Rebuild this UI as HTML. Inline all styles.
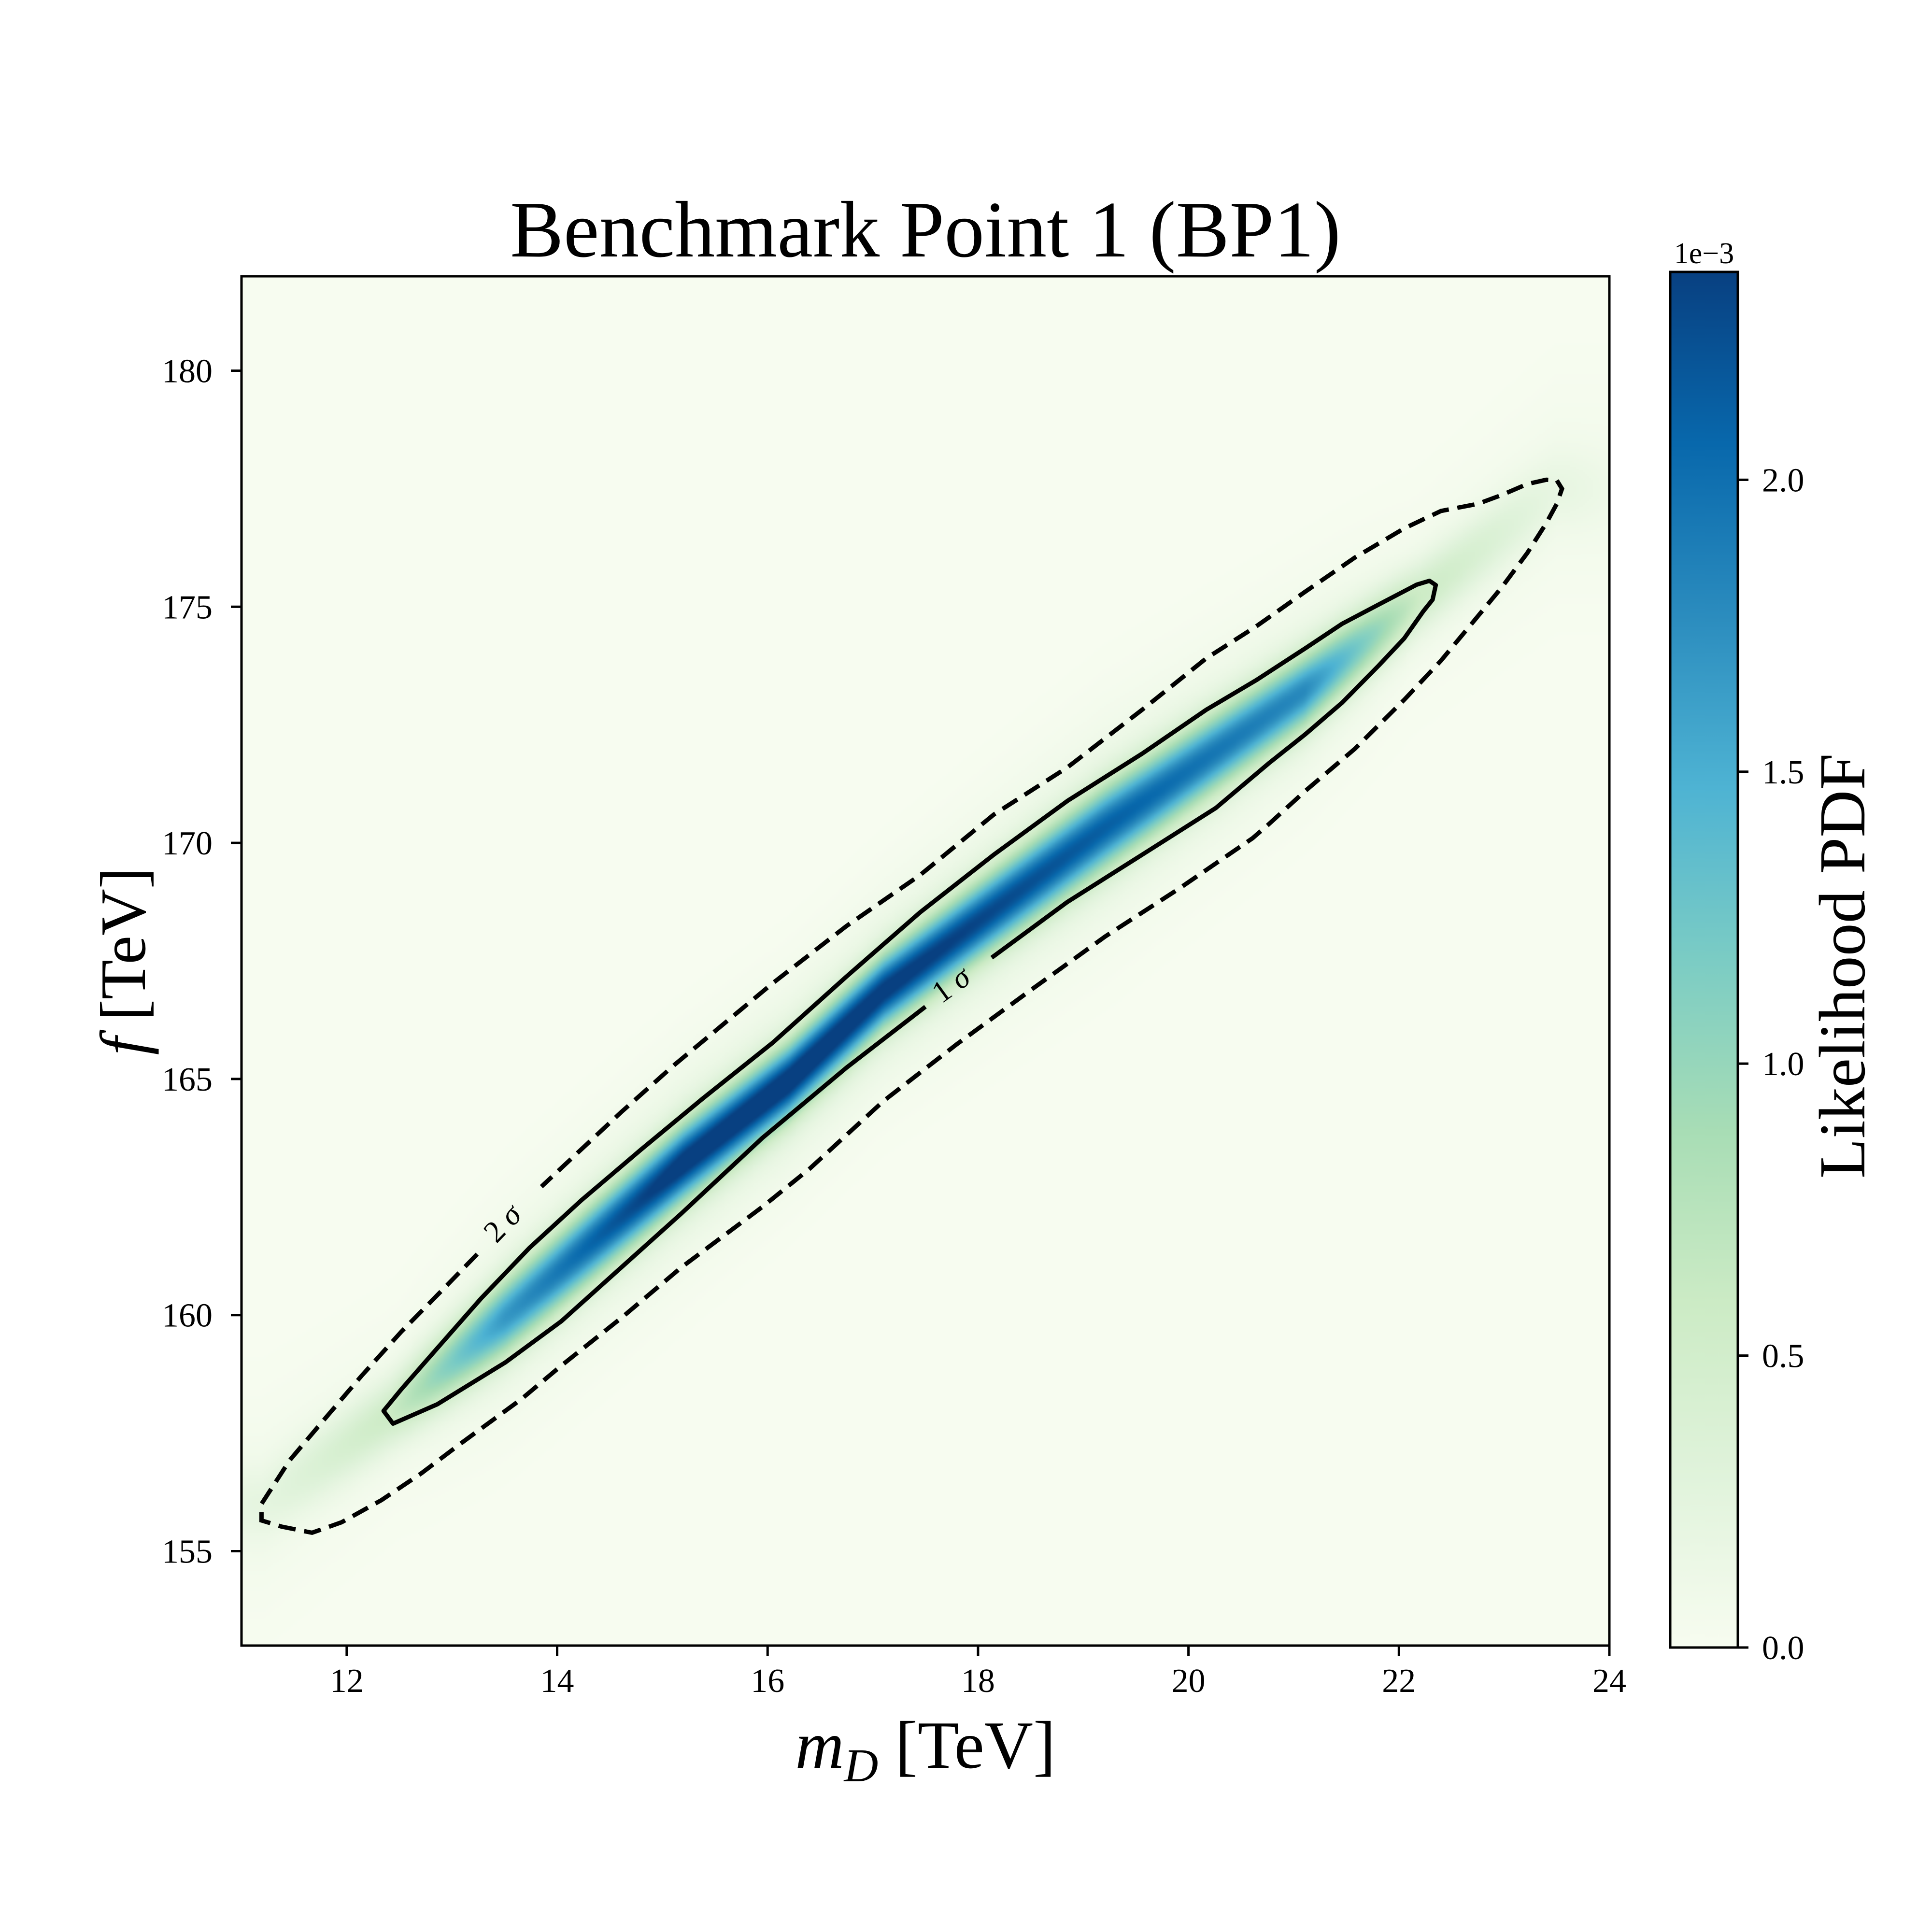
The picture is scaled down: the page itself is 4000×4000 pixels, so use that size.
<!DOCTYPE html>
<html><head><meta charset="utf-8">
<style>
html,body{margin:0;padding:0;background:#fff;}
#wrap{position:relative;width:4000px;height:4000px;overflow:hidden;background:#fff;}
#heat{position:absolute;left:500px;top:572px;width:2832px;height:2835px;}
#svg{position:absolute;left:0;top:0;}
text{font-family:"Liberation Serif",serif;fill:#000;}
</style></head>
<body>
<div id="wrap">
<canvas id="heat" width="708" height="709"></canvas>
<svg id="svg" width="4000" height="4000" viewBox="0 0 4000 4000">
<defs>
<linearGradient id="cbgrad" x1="0" y1="1" x2="0" y2="0">
<stop offset="0" stop-color="#f7fcf0"/>
<stop offset="0.125" stop-color="#e0f3db"/>
<stop offset="0.25" stop-color="#ccebc5"/>
<stop offset="0.375" stop-color="#a8ddb5"/>
<stop offset="0.5" stop-color="#7bccc4"/>
<stop offset="0.625" stop-color="#4eb3d3"/>
<stop offset="0.75" stop-color="#2b8cbe"/>
<stop offset="0.875" stop-color="#0868ac"/>
<stop offset="1" stop-color="#084081"/>
</linearGradient>
</defs>
<g id="contours"></g>
<rect x="500" y="572" width="2832" height="2835" fill="none" stroke="#000" stroke-width="5"/>
<g id="xticks"></g>
<g id="yticks"></g>
<text x="1916" y="531" font-size="166" text-anchor="middle">Benchmark Point 1 (BP1)</text>
<text x="1916" y="3660" font-size="140" text-anchor="middle"><tspan font-style="italic">m</tspan><tspan font-style="italic" font-size="98" dy="28">D</tspan><tspan dy="-28"> [TeV]</tspan></text>
<text transform="translate(300,1990) rotate(-90)" font-size="134" text-anchor="middle"><tspan font-style="italic">f</tspan> [TeV]</text>
<rect x="3458" y="563" width="140" height="2848" fill="url(#cbgrad)" stroke="#000" stroke-width="5"/>
<g id="cbticks"></g>
<text x="3528" y="545" font-size="62" text-anchor="middle">1e−3</text>
<text transform="translate(3860,2000) rotate(-90)" font-size="136" text-anchor="middle">Likelihood PDF</text>
</svg>
</div>
<script>
// ---- data ----
const xTicks = [12,14,16,18,20,22,24];
const yTicks = [155,160,165,170,175,180];
const cbTicks = [0.0,0.5,1.0,1.5,2.0];
const xDomain = [11,24];
const yDomain = [153,182];
const cbDomain = [0,2.356];
// likelihood ridge (TeV) and peak density (1e-3)
const ridgeX = [11.2,12.4,13.5,15.2,16.2,17.1,19.2,21.1,22.2,23.5];
const ridgeY = [156.0,157.9,159.94,163.22,164.95,166.85,170.31,173.21,175.2,177.5];
const ridgePeak = [0.15,0.5,1.5,2.25,2.32,2.2,1.9,1.6,0.5,0.12];
const ridgeSigma = [0.55,0.5,0.54,0.52,0.5,0.5,0.57,0.52,0.5,0.55];
// 1 sigma contour (solid), starts/ends at label gap
const sig1_x = [17.50,16.75,15.95,15.18,14.61,14.04,13.51,12.86,12.44,12.35,12.52,12.83,13.28,13.74,14.23,14.80,15.38,16.05,16.75,17.45,18.15,18.85,19.56,20.17,20.64,21.11,21.46,21.81,22.17,22.29,22.35,22.32,22.23,22.05,21.81,21.46,21.11,20.76,20.26,19.56,18.85,18.13];
const sig1_y = [166.53,165.24,163.75,162.15,161.01,159.87,159.00,158.11,157.70,157.97,158.43,159.22,160.36,161.43,162.43,163.51,164.58,165.77,167.17,168.53,169.75,170.89,171.89,172.82,173.44,174.12,174.64,175.05,175.47,175.55,175.46,175.15,174.90,174.33,173.76,172.97,172.30,171.68,170.74,169.75,168.75,167.57];
// 2 sigma contour (dashed), starts/ends at label gap
const sig2_x = [13.24,12.90,12.52,12.14,11.76,11.46,11.19,11.19,11.38,11.67,11.95,12.33,12.71,13.09,13.66,14.04,14.61,15.18,15.95,16.40,17.10,17.80,18.50,19.21,19.91,20.61,20.76,21.11,21.58,22.05,22.40,22.75,22.98,23.22,23.40,23.50,23.55,23.50,23.40,23.22,22.98,22.75,22.40,22.05,21.58,21.11,20.64,20.17,19.56,18.85,18.15,17.45,16.75,16.05,15.11,14.61,14.23,13.85];
const sig2_y = [161.29,160.51,159.65,158.71,157.72,156.93,156.00,155.65,155.52,155.39,155.61,156.08,156.65,157.29,158.22,158.93,159.94,161.01,162.29,163.10,164.53,165.74,166.88,168.02,169.03,170.10,170.39,171.10,171.99,173.03,173.86,174.80,175.42,176.14,176.77,177.18,177.50,177.68,177.69,177.60,177.37,177.18,177.03,176.66,176.04,175.32,174.58,173.91,172.82,171.60,170.60,169.32,168.24,167.03,165.29,164.30,163.51,162.72];

// ---- axes ----
const PL=500, PR=3332, PT=572, PB=3407;
function sx(v){return PL+(v-xDomain[0])/(xDomain[1]-xDomain[0])*(PR-PL);}
function sy(v){return PB-(v-yDomain[0])/(yDomain[1]-yDomain[0])*(PB-PT);}
const CBT=563, CBB=3411;
function sc(v){return CBB-(v-cbDomain[0])/(cbDomain[1]-cbDomain[0])*(CBB-CBT);}
const NS="http://www.w3.org/2000/svg";
function mk(tag,attrs,parent){const e=document.createElementNS(NS,tag);for(const k in attrs)e.setAttribute(k,attrs[k]);parent.appendChild(e);return e;}

// heatmap
const stops=[[247,252,240],[224,243,219],[204,235,197],[168,221,181],[123,204,196],[78,179,211],[43,140,190],[8,104,172],[8,64,129]];
function cmap(t){t=Math.max(0,Math.min(1,t))*8;const i=Math.min(7,Math.floor(t));const f=t-i;const a=stops[i],b=stops[i+1];return [a[0]+(b[0]-a[0])*f,a[1]+(b[1]-a[1])*f,a[2]+(b[2]-a[2])*f];}
function interp(arr,x){
 const n=ridgeX.length;
 if(x<=ridgeX[0])return arr[0];
 if(x>=ridgeX[n-1])return arr[n-1];
 for(let k=0;k<n-1;k++){if(x<=ridgeX[k+1]){const f=(x-ridgeX[k])/(ridgeX[k+1]-ridgeX[k]);return arr[k]+(arr[k+1]-arr[k])*f;}}
 return arr[n-1];
}
const cv=document.getElementById('heat');const ctx=cv.getContext('2d');
const W=cv.width,H=cv.height;const img=ctx.createImageData(W,H);
for(let i=0;i<W;i++){
 const x=xDomain[0]+(i+0.5)/W*(xDomain[1]-xDomain[0]);
 const yc=interp(ridgeY,x);let pk=interp(ridgePeak,x);const sg=interp(ridgeSigma,x);
 if(x<ridgeX[0]){const e=(ridgeX[0]-x)/0.5;pk*=Math.exp(-e*e);}
 if(x>ridgeX[ridgeX.length-1]){const e=(x-ridgeX[ridgeX.length-1])/0.5;pk*=Math.exp(-e*e);}
 for(let j=0;j<H;j++){
  const y=yDomain[1]-(j+0.5)/H*(yDomain[1]-yDomain[0]);
  const v=y-yc;
  const d=pk*Math.exp(-0.5*v*v/(sg*sg))+0.12*Math.max(pk,0.6)*Math.exp(-0.5*v*v/(6.5*sg*sg))*(pk>0.05?1:pk/0.05);
  const c=cmap(d/cbDomain[1]);const k=(j*W+i)*4;
  img.data[k]=c[0];img.data[k+1]=c[1];img.data[k+2]=c[2];img.data[k+3]=255;}}
ctx.putImageData(img,0,0);

// contours
const cg=document.getElementById('contours');
function pathFrom(xs,ys){let d='';for(let i=0;i<xs.length;i++)d+=(i?'L':'M')+sx(xs[i]).toFixed(1)+','+sy(ys[i]).toFixed(1);return d;}
const p1=mk('path',{d:pathFrom(sig1_x,sig1_y),fill:'none',stroke:'#000','stroke-width':9,'stroke-linejoin':'round'},cg);


const p2=mk('path',{d:pathFrom(sig2_x,sig2_y),fill:'none',stroke:'#000','stroke-width':9,'stroke-dasharray':'36,18'},cg);


const l1=mk('text',{transform:'translate('+sx(17.80)+','+(sy(167.03)+20)+') rotate(-36)','font-size':64,'text-anchor':'middle'},cg);
l1.innerHTML='1 <tspan font-style="italic">σ</tspan>';


const l2=mk('text',{transform:'translate('+sx(13.55)+','+(sy(162.0)+20)+') rotate(-46)','font-size':64,'text-anchor':'middle'},cg);
l2.innerHTML='2 <tspan font-style="italic">σ</tspan>';



// ticks
const xg=document.getElementById('xticks');
xTicks.forEach(t=>{
 const ln=mk('line',{x1:sx(t),x2:sx(t),y1:PB,y2:PB+22,stroke:'#000','stroke-width':5},xg);
 
 
 const tx=mk('text',{x:sx(t),y:3503,'font-size':70,'text-anchor':'middle'},xg);tx.textContent=t;
 
 
});
const yg=document.getElementById('yticks');
yTicks.forEach(t=>{
 const ln=mk('line',{x1:PL,x2:PL-22,y1:sy(t),y2:sy(t),stroke:'#000','stroke-width':5},yg);
 
 
 const tx=mk('text',{x:440,y:sy(t)+24,'font-size':70,'text-anchor':'end'},yg);tx.textContent=t;
 
 
});
const cbg=document.getElementById('cbticks');
cbTicks.forEach(t=>{
 const ln=mk('line',{x1:3598,x2:3620,y1:sc(t),y2:sc(t),stroke:'#000','stroke-width':5},cbg);
 
 
 const tx=mk('text',{x:3648,y:sc(t)+24,'font-size':70},cbg);tx.textContent=t.toFixed(1);
 
 
});
</script>
</body></html>
